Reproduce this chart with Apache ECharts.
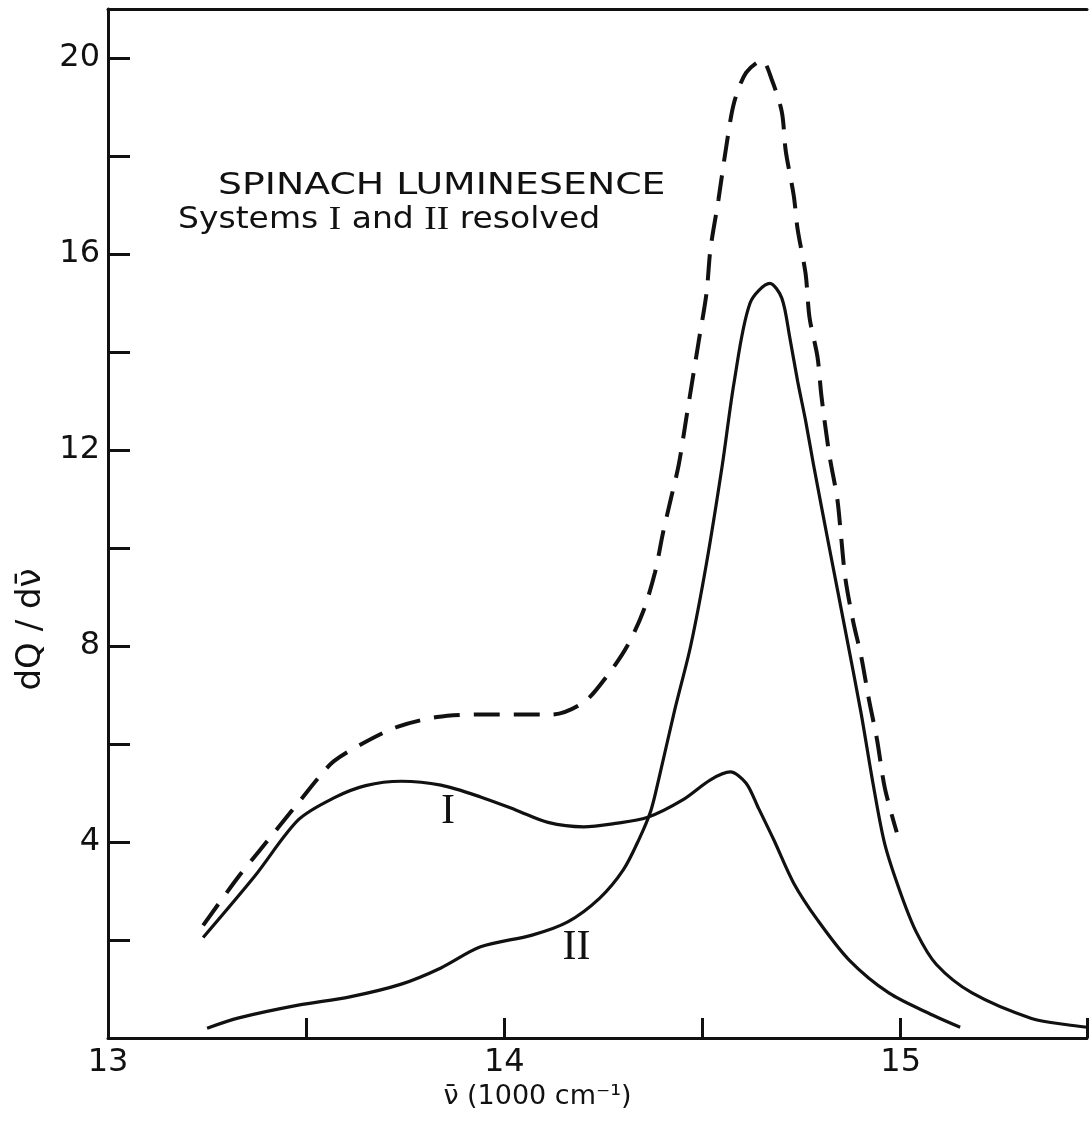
<!DOCTYPE html>
<html>
<head>
<meta charset="utf-8">
<script src="https://cdn.jsdelivr.net/npm/echarts@6/dist/echarts.min.js"></script>
<style>
  html, body { margin: 0; padding: 0; background: #fff; }
  #chart { width: 1090px; height: 1125px; }
</style>
</head>
<body>
<div id="chart"></div>
<script>
// wavenumber (1000 cm-1), dQ/dv
var totalCurve = [
	[13.24, 2.3], [13.33, 3.3], [13.38, 3.8], [13.43, 4.3], [13.49, 4.9], [13.53, 5.3],
	[13.57, 5.65], [13.64, 6.0], [13.73, 6.35], [13.83, 6.55], [13.93, 6.6], [14.03, 6.6],
	[14.12, 6.6], [14.20, 6.85], [14.26, 7.4], [14.31, 8.0], [14.35, 8.7], [14.38, 9.5],
	[14.40, 10.3], [14.42, 11.0], [14.44, 11.7], [14.46, 12.7], [14.49, 14.2], [14.51, 15.2],
	[14.52, 16.1], [14.54, 17.1], [14.56, 18.2], [14.58, 19.1], [14.61, 19.7], [14.65, 19.95],
	[14.675, 19.55], [14.70, 18.9], [14.71, 18.1], [14.73, 17.2], [14.74, 16.5], [14.76, 15.6],
	[14.77, 14.7], [14.79, 13.9], [14.80, 13.1], [14.82, 11.9], [14.84, 11.0],
	[14.85, 10.2], [14.86, 9.4], [14.88, 8.5], [14.90, 7.8], [14.92, 6.9], [14.94, 6.1],
	[14.96, 5.1], [14.99, 4.2]
];
var systemI = [
	[13.24, 2.05], [13.37, 3.3], [13.48, 4.45], [13.57, 4.9], [13.65, 5.15], [13.74, 5.24],
	[13.84, 5.16], [13.94, 4.92], [14.03, 4.65], [14.11, 4.4], [14.20, 4.31], [14.28, 4.38],
	[14.36, 4.5], [14.45, 4.86], [14.52, 5.27], [14.57, 5.43], [14.61, 5.2], [14.64, 4.71],
	[14.68, 4.04], [14.73, 3.16], [14.79, 2.41], [14.87, 1.59], [14.97, 0.92], [15.08, 0.47],
	[15.15, 0.22]
];
var systemII = [
	[13.25, 0.2], [13.33, 0.41], [13.48, 0.67], [13.61, 0.84], [13.74, 1.1], [13.84, 1.43],
	[13.94, 1.86], [14.07, 2.1], [14.16, 2.37], [14.24, 2.85], [14.30, 3.43], [14.34, 4.06],
	[14.37, 4.65], [14.39, 5.3], [14.43, 6.7], [14.47, 8.0], [14.51, 9.69], [14.55, 11.7],
	[14.58, 13.4], [14.62, 15.0], [14.67, 15.4], [14.70, 15.1], [14.72, 14.3], [14.74, 13.4],
	[14.76, 12.6], [14.78, 11.7], [14.82, 10.0], [14.86, 8.33], [14.90, 6.63], [14.93, 5.2],
	[14.96, 3.95], [15.00, 2.95], [15.04, 2.15], [15.09, 1.5], [15.18, 0.92], [15.33, 0.4],
	[15.42, 0.27], [15.47, 0.22]
];
var xTickLabels = [13, 14, 15];
var yTickLabels = [4, 8, 12, 16, 20];
var labelI = [13.858, 4.61];
var labelII = [14.182, 1.84];

var chart = echarts.init(document.getElementById('chart'));
var ink = '#111';
var font = 'DejaVu Sans';

function curveSeries(name, data, lineStyle) {
	return {
		name: name,
		type: 'line',
		data: data,
		smooth: 0.3,
		showSymbol: false,
		lineStyle: lineStyle
	};
}

function numeralMark(text, coord) {
	return {
		symbol: 'circle',
		symbolSize: 1,
		itemStyle: { color: 'rgba(0,0,0,0)' },
		label: {
			show: true,
			position: 'inside',
			color: ink,
			fontFamily: 'Liberation Serif',
			fontSize: 42,
			formatter: text
		},
		data: [{ coord: coord }]
	};
}

var seriesTotal = curveSeries('Total', totalCurve, { color: ink, width: 4, type: [26, 14] });
var seriesI = curveSeries('System I', systemI, { color: ink, width: 3.2 });
var seriesII = curveSeries('System II', systemII, { color: ink, width: 3.2 });
seriesI.markPoint = numeralMark('I', labelI);
seriesII.markPoint = numeralMark('II', labelII);

var option = {
	backgroundColor: '#fff',
	animation: false,
	grid: {
		left: 108,
		right: 0,
		top: 9,
		bottom: 87
	},
	xAxis: [
		{
			type: 'value',
			min: 13,
			max: 15.47,
			interval: 0.5,
			name: '\u03BD\u0304 (1000 cm\u207B\u00B9)',
			nameLocation: 'middle',
			nameGap: 44,
			nameTextStyle: {
				color: ink,
				fontFamily: font,
				fontSize: 27,
				padding: [0, 120, 0, 0]
			},
			axisLine: { show: true, onZero: false, lineStyle: { color: ink, width: 3 } },
			axisTick: { show: true, inside: true, length: 20, lineStyle: { color: ink, width: 3 } },
			axisLabel: {
				color: ink,
				fontFamily: font,
				fontSize: 32,
				margin: 9,
				formatter: function (v) {
					return xTickLabels.indexOf(v) >= 0 ? String(v) : '';
				}
			},
			splitLine: { show: false }
		},
		{
			type: 'value',
			position: 'top',
			min: 13,
			max: 15.47,
			axisLine: { show: true, onZero: false, lineStyle: { color: ink, width: 3 } },
			axisTick: { show: false },
			axisLabel: { show: false },
			splitLine: { show: false }
		}
	],
	yAxis: {
		type: 'value',
		min: 0,
		max: 21,
		interval: 2,
		name: 'dQ / d\u03BD\u0304',
		nameLocation: 'middle',
		nameGap: 52,
		nameTextStyle: {
			color: ink,
			fontFamily: font,
			fontSize: 34,
			padding: [0, 212, 0, 0]
		},
		axisLine: { show: true, onZero: false, lineStyle: { color: ink, width: 3 } },
		axisTick: { show: true, inside: true, length: 22, lineStyle: { color: ink, width: 3 } },
		axisLabel: {
			color: ink,
			fontFamily: font,
			fontSize: 32,
			margin: 8,
			formatter: function (v) {
				return yTickLabels.indexOf(v) >= 0 ? String(v) : '';
			}
		},
		splitLine: { show: false }
	},
	graphic: [
		{
			type: 'text',
			x: 218,
			y: 186,
			scaleX: 1.26,
			style: {
				text: 'SPINACH LUMINESENCE',
				font: '30px "DejaVu Sans"',
				fill: ink,
				verticalAlign: 'middle'
			}
		},
		{
			type: 'text',
			x: 178,
			y: 220,
			scaleX: 1.1,
			style: {
				text: 'Systems {r|I} and {r|II} resolved',
				font: '30px "DejaVu Sans"',
				fill: ink,
				verticalAlign: 'middle',
				rich: {
					r: { fontFamily: 'Liberation Serif', fontSize: 34, fill: ink }
				}
			}
		}
	],
	series: [seriesTotal, seriesI, seriesII]
};
chart.setOption(option);
</script>
</body>
</html>
